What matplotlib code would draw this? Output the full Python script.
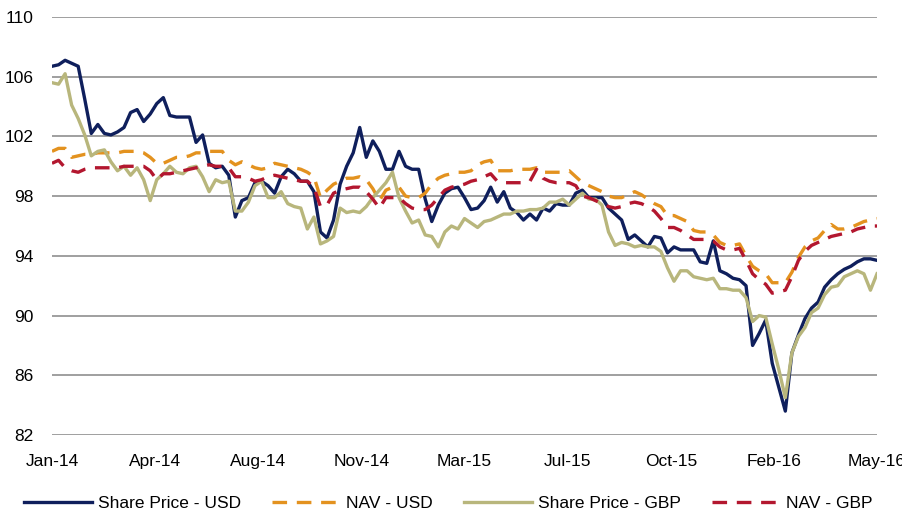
import matplotlib
matplotlib.use("Agg")
import matplotlib.pyplot as plt
import matplotlib.dates as mdates
import numpy as np
import pandas as pd

start_date = "2014-01-01"
n_weeks = 127

share_usd = [106.7, 106.8, 107.1, 106.9, 106.7, 104.5, 102.2, 102.8, 102.2, 102.1,
             102.3, 102.6, 103.6, 103.8, 103.0, 103.5, 104.2, 104.6, 103.4, 103.3,
             103.3, 103.3, 101.6, 102.1, 100.2, 99.9, 100.0, 99.4, 96.6, 97.7,
             97.9, 98.9, 99.0, 98.7, 98.2, 99.3, 99.8, 99.5, 99.0, 99.0,
             98.3, 95.6, 95.2, 96.4, 98.8, 100.0, 100.9, 102.6, 100.6, 101.7,
             101.0, 99.8, 99.8, 101.0, 100.0, 99.8, 99.8, 97.8, 96.3, 97.4,
             98.2, 98.5, 98.6, 97.9, 97.1, 97.2, 97.7, 98.6, 97.6, 98.3,
             97.2, 96.9, 96.4, 96.8, 96.4, 97.2, 97.0, 97.5, 97.4, 97.4,
             98.2, 98.4, 97.9, 97.9, 97.9, 97.2, 96.8, 96.4, 95.1, 95.4,
             95.0, 94.6, 95.3, 95.2, 94.2, 94.6, 94.4, 94.4, 94.4, 93.6,
             93.5, 95.0, 93.0, 92.8, 92.5, 92.4, 92.0, 88.0, 88.8, 89.7,
             86.8, 85.2, 83.6, 87.5, 88.7, 89.8, 90.5, 90.9, 91.9, 92.4,
             92.8, 93.1, 93.3, 93.6, 93.8, 93.8, 93.7]

nav_usd = [101.0, 101.2, 101.2, 100.6, 100.7, 100.8, 100.8, 100.9, 100.9, 100.9,
           100.9, 101.0, 101.0, 101.0, 100.9, 100.6, 100.2, 100.2, 100.4, 100.6,
           100.6, 100.7, 100.9, 100.9, 101.0, 101.0, 101.0, 100.4, 100.1, 100.3,
           100.1, 99.9, 99.8, 99.9, 100.2, 100.1, 100.0, 99.9, 99.8, 99.6,
           99.3, 97.9, 98.4, 98.8, 99.0, 99.2, 99.2, 99.3, 99.1, 98.5,
           97.7, 98.4, 98.6, 98.6, 98.0, 97.9, 97.9, 98.2, 98.8, 99.2,
           99.4, 99.5, 99.6, 99.6, 99.7, 100.1, 100.3, 100.4, 99.7, 99.7,
           99.7, 99.8, 99.8, 99.8, 99.9, 99.6, 99.6, 99.6, 99.6, 99.7,
           99.3, 98.9, 98.7, 98.5, 98.3, 98.0, 97.9, 97.9, 98.1, 98.3,
           98.1, 97.8, 97.5, 97.3, 96.7, 96.7, 96.5, 96.3, 95.7, 95.6,
           95.6, 95.4, 94.9, 94.7, 94.7, 94.8, 94.0, 93.3, 93.0, 92.8,
           92.2, 92.2, 92.2, 92.9, 93.9, 94.6, 95.0, 95.2, 95.7, 96.1,
           95.8, 95.8, 95.9, 96.1, 96.3, 96.4, 96.5]

share_gbp = [105.6, 105.5, 106.2, 104.1, 103.2, 102.1, 100.7, 101.0, 101.1, 100.3,
             99.7, 100.0, 99.4, 99.9, 99.1, 97.7, 99.1, 99.5, 100.0, 99.6,
             99.5, 99.9, 100.0, 99.3, 98.3, 99.1, 98.9, 99.0, 97.0, 97.0,
             97.6, 98.7, 99.0, 97.9, 97.9, 98.3, 97.5, 97.3, 97.2, 95.8,
             96.6, 94.8, 95.0, 95.3, 97.2, 96.9, 97.0, 96.9, 97.3, 97.9,
             98.4, 98.9, 99.6, 97.9, 97.0, 96.2, 96.4, 95.4, 95.3, 94.6,
             95.6, 96.0, 95.8, 96.5, 96.2, 95.9, 96.3, 96.4, 96.6, 96.8,
             96.8, 97.0, 97.0, 97.1, 97.1, 97.2, 97.6, 97.6, 97.8, 97.4,
             97.8, 98.2, 97.8, 97.8, 97.4, 95.6, 94.7, 94.9, 94.8, 94.6,
             94.7, 94.6, 94.6, 94.3, 93.2, 92.3, 93.0, 93.0, 92.6, 92.5,
             92.4, 92.5, 91.8, 91.8, 91.7, 91.7, 91.2, 89.6, 90.0, 89.9,
             88.1, 86.4, 84.5, 87.5, 88.6, 89.2, 90.2, 90.5, 91.4, 91.9,
             92.0, 92.6, 92.8, 93.0, 92.8, 91.7, 92.8]

nav_gbp = [100.2, 100.4, 99.9, 99.7, 99.6, 99.8, 99.9, 99.9, 99.9, 99.9,
           99.9, 100.0, 100.0, 100.0, 100.0, 99.7, 99.1, 99.5, 99.5, 99.6,
           99.7, 99.8, 99.9, 100.0, 100.1, 100.0, 100.0, 99.9, 99.3, 99.3,
           99.2, 99.0, 99.1, 99.3, 99.4, 99.3, 99.2, 99.1, 99.0, 99.0,
           98.6, 97.3, 97.4, 98.2, 98.4, 98.5, 98.6, 98.6, 98.3, 97.8,
           97.2, 97.9, 97.9, 97.9, 97.5, 97.2, 97.1, 97.1, 97.4, 97.9,
           98.4, 98.6, 98.7, 98.8, 99.0, 99.1, 99.3, 99.5, 99.0, 98.9,
           98.9, 98.9, 98.9, 99.0, 99.8, 99.2, 99.0, 98.9, 98.9, 98.9,
           98.7, 98.0, 97.9, 97.7, 97.5, 97.3, 97.2, 97.3, 97.5, 97.6,
           97.5, 97.3, 97.0, 96.5, 95.9, 95.9, 95.7, 95.4, 95.1, 95.1,
           95.1, 95.0, 94.6, 94.4, 94.4, 94.5, 93.7, 92.8, 92.4, 92.1,
           91.5, 91.6, 91.7, 92.6, 93.7, 94.3, 94.7, 94.9, 95.1, 95.3,
           95.4, 95.5, 95.6, 95.8, 95.9, 96.0, 96.0]

tick_labels = ["Jan-14", "Apr-14", "Aug-14", "Nov-14", "Mar-15",
               "Jul-15", "Oct-15", "Feb-16", "May-16"]
y_ticks = [82, 86, 90, 94, 98, 102, 106, 110]

series_names = ["Share Price - USD", "NAV - USD", "Share Price - GBP", "NAV - GBP"]
colors = ["#0f1f5c", "#e3921f", "#b8b67c", "#b3172f"]

# ---- plot ----
plt.rcParams["font.family"] = ["Liberation Sans", "DejaVu Sans"]
plt.rcParams["lines.scale_dashes"] = False

dates = pd.date_range(start_date, periods=n_weeks, freq="7D")
xnum = mdates.date2num(dates)

fig = plt.figure(figsize=(9.03, 5.15), dpi=100)
ax = fig.add_axes([52 / 903, 1 - 435 / 515, (877 - 52) / 903, (435 - 17) / 515])

vals = [share_usd, nav_usd, share_gbp, nav_gbp]
styles = ["-", "--", "-", "--"]
handles = []
for name, v, c, ls in zip(series_names, vals, colors, styles):
    if ls == "--":
        h, = ax.plot(xnum, v, color=c, lw=2.4, dashes=(10.5, 7), label=name,
                     solid_capstyle="butt", dash_capstyle="butt")
    else:
        h, = ax.plot(xnum, v, color=c, lw=2.4, label=name, solid_joinstyle="round")
    handles.append(h)

ax.set_xlim(xnum[0], xnum[-1])
ax.set_ylim(82, 110)
ax.set_yticks(y_ticks)
ax.set_yticklabels([str(t) for t in y_ticks])
ax.set_xticks(np.linspace(xnum[0], xnum[-1], len(tick_labels)))
ax.set_xticklabels(tick_labels)
ax.tick_params(axis="both", length=0, labelsize=12.5, colors="#000000")
ax.tick_params(axis="y", pad=13)
ax.tick_params(axis="x", pad=14)
ax.grid(axis="y", color="#8f8f8f", lw=1.2)
ax.set_axisbelow(True)
for s in ax.spines.values():
    s.set_visible(False)

fig.legend(handles=handles, labels=series_names, loc="center",
           bbox_to_anchor=(448 / 903, 1 - 503 / 515), ncol=4, frameon=False,
           fontsize=12.5, handlelength=3.9, handletextpad=0.35,
           columnspacing=1.8, borderpad=0, borderaxespad=0)

fig.savefig("out.png", dpi=100)
